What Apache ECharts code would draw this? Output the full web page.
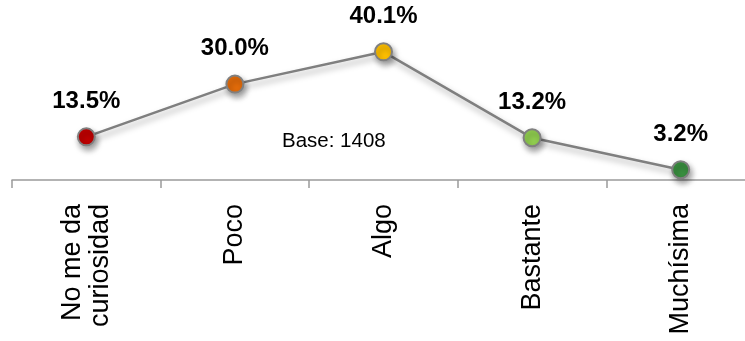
<!DOCTYPE html>
<html>
<head>
<meta charset="utf-8">
<script src="https://cdn.jsdelivr.net/npm/echarts@6/dist/echarts.min.js"></script>
<style>
html,body{margin:0;padding:0;background:#fff;overflow:hidden;}
#c{width:755px;height:341px;}
</style>
</head>
<body>
<div id="c"></div>
<script>
const categories = ['No me da\ncuriosidad', 'Poco', 'Algo', 'Bastante', 'Muchísima'];
const values = [13.5, 30.0, 40.1, 13.2, 3.2];
const pointColors = ['#c00000', '#e46c0a', '#ffc000', '#92d050', '#3a9040'];
const baseText = 'Base: 1408';

const chart = echarts.init(document.getElementById('c'), null, {renderer: 'canvas'});
chart.setOption({
  animation: false,
  grid: {left: 12, right: 0, top: 20.2, bottom: 161},
  xAxis: {
    type: 'category',
    data: categories,
    boundaryGap: true,
    axisLine: {lineStyle: {color: '#9a9a9a', width: 1.5}},
    axisTick: {show: true, length: 8, lineStyle: {color: '#9a9a9a', width: 1.5}},
    axisLabel: {
      rotate: 90, margin: 24, color: '#000',
      fontFamily: 'Liberation Sans, Arial, sans-serif', fontSize: 27, lineHeight: 28
    }
  },
  yAxis: {type: 'value', min: 0, max: 50, show: false, splitLine: {show: false}},
  series: [{
    type: 'line',
    data: values.map((v, i) => ({value: v, itemStyle: {color: pointColors[i]}})),
    symbol: 'circle',
    symbolSize: 17,
    lineStyle: {color: '#7f7f7f', width: 2.5, shadowColor: 'rgba(0,0,0,0.35)', shadowBlur: 6, shadowOffsetX: 2, shadowOffsetY: 4},
    itemStyle: {borderColor: '#808080', borderWidth: 2, shadowColor: 'rgba(0,0,0,0.4)', shadowBlur: 6, shadowOffsetX: 2, shadowOffsetY: 4},
    label: {
      show: true, position: 'top', distance: 14,
      formatter: p => p.value.toFixed(1) + '%',
      color: '#000', fontWeight: 'bold', fontSize: 24,
      fontFamily: 'Liberation Sans, Arial, sans-serif'
    }
  }],
  graphic: [{
    type: 'text', left: 282, top: 131,
    style: {text: baseText, fill: '#000', fontSize: 20.5, fontFamily: 'Liberation Sans, Arial, sans-serif'}
  }]
});
</script>
</body>
</html>
